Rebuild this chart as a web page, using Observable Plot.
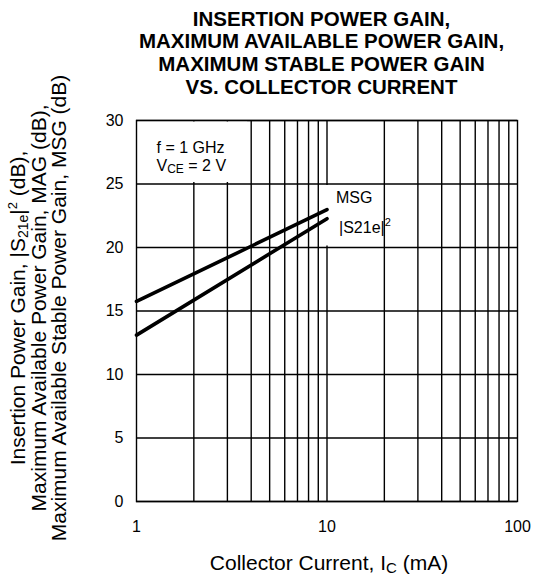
<!DOCTYPE html>
<html>
<head>
<meta charset="utf-8">
<script src="https://cdn.jsdelivr.net/npm/d3@7"></script>
<script src="https://cdn.jsdelivr.net/npm/@observablehq/plot@0.6"></script>
<style>
  html, body { margin: 0; padding: 0; background: #fff; }
  #wrap { position: relative; width: 535px; height: 582px; font-family: "Liberation Sans", Arial, sans-serif; }
  #title { position: absolute; left: 0; top: 0; width: 535px; box-sizing: border-box; padding-left: 108px; padding-top: 7.5px;
           text-align: center; font-weight: bold; font-size: 20.5px; line-height: 22.7px; color: #000; }
  #chart { position: absolute; left: 0; top: 0; }
</style>
</head>
<body>
<div id="wrap">
  <div id="chart"></div>
  <div id="title">INSERTION POWER GAIN,<br>MAXIMUM AVAILABLE POWER GAIN,<br>MAXIMUM STABLE POWER GAIN<br>VS. COLLECTOR CURRENT</div>
</div>
<script>
// ---- data ----
const current = [1, 10];                 // Ic (mA)
const msgGain = [15.75, 22.98];          // MSG (dB)
const s21Gain = [13.1, 22.27];           // |S21e|^2 (dB)
const seriesNames = ["MSG", "|S21e|"];
const xTicks = [1, 10, 100];
const yTicks = [0, 5, 10, 15, 20, 25, 30];
const xGrid = [2, 3, 4, 5, 6, 7, 8, 9, 10, 20, 30, 40, 50, 60, 70, 80, 90];
const conditions = ["f = 1 GHz", "VCE = 2 V"];
// white backgrounds behind the in-plot annotations (data units)
const labelBoxes = [
  {x1: 1, x2: 3.9, y1: 25, y2: 30},
  {x1: 9.5, x2: 15, y1: 20, y2: 25}
];

const rows = [
  ...current.map((c, i) => ({series: seriesNames[0], current: c, gain: msgGain[i]})),
  ...current.map((c, i) => ({series: seriesNames[1], current: c, gain: s21Gain[i]}))
];

const FONT = "'Liberation Sans', Arial, sans-serif";

const plot = Plot.plot({
  width: 535,
  height: 582,
  marginLeft: 136,
  marginRight: 18,
  marginTop: 120,
  marginBottom: 81,
  style: {fontFamily: FONT, fontSize: "16px", color: "#000", background: "#fff", overflow: "visible"},
  x: {type: "log", domain: [1, 100], ticks: xTicks, tickFormat: d => String(d), tickSize: 0, tickPadding: 19, label: null},
  y: {domain: [0, 30], ticks: yTicks, tickSize: 0, tickPadding: 13, label: null},
  marks: [
    Plot.ruleX(xGrid, {stroke: "#000", strokeWidth: 1.4}),
    Plot.ruleY(yTicks, {stroke: "#000", strokeWidth: 1.4}),
    Plot.rect(labelBoxes, {x1: "x1", x2: "x2", y1: "y1", y2: "y2", fill: "#fff", inset: 1.5}),
    Plot.frame({stroke: "#000", strokeWidth: 1.4}),
    Plot.line(rows, {x: "current", y: "gain", z: "series", stroke: "#000", strokeWidth: 3.6}),
    Plot.text(rows.filter(d => d.series === seriesNames[0]), Plot.selectLast({
      x: "current", y: "gain", text: "series", textAnchor: "start", dx: 9, dy: -12, fill: "#000", fontSize: 16
    })),
    Plot.text(rows.filter(d => d.series === seriesNames[1]), Plot.selectLast({
      x: "current", y: "gain", text: "series", textAnchor: "start", dx: 12, dy: 9, fill: "#000", fontSize: 16
    })),
    Plot.text([conditions[0]], {frameAnchor: "top-left", textAnchor: "start", dx: 20, dy: 21, fill: "#000", fontSize: 16}),
    Plot.text([conditions[1]], {frameAnchor: "top-left", textAnchor: "start", dx: 20, dy: 39.5, fill: "#000", fontSize: 16})
  ]
});

document.getElementById("chart").appendChild(plot);
const svg = d3.select(plot);

// rich text helper: segments [text, shift(px, negative = up), fontSize]
function rich(sel, segs, baseSize) {
  let prev = 0;
  segs.forEach(([t, shift = 0, size = baseSize]) => {
    sel.append("tspan").attr("dy", shift - prev).attr("font-size", size).text(t);
    prev = shift;
  });
}

// superscript on the |S21e| label and subscript on VCE
svg.selectAll("text").each(function() {
  const el = d3.select(this);
  if (this.textContent === "|S21e|") {
    el.append("tspan").attr("dy", -7).attr("font-size", 11).text("2");
  } else if (this.textContent === "VCE = 2 V") {
    el.text(null);
    rich(el, [["V"], ["CE", 2, 12], [" = 2 V", 0]], 16);
  }
});

// y-axis title (three rotated lines)
const yTitle = [
  [["Insertion Power Gain, |S"], ["21e", 3, 14], ["|", 0], ["2", -8, 13], [" (dB),", 0]],
  [["Maximum Available Power Gain, MAG (dB),"]],
  [["Maximum Available Stable Power Gain, MSG (dB)"]]
];
const yTitleX = [25, 45.5, 65.5];
yTitle.forEach((segs, i) => {
  const t = svg.append("text")
    .attr("transform", `translate(${yTitleX[i]},308) rotate(-90)`)
    .attr("text-anchor", "middle").attr("font-family", FONT).attr("font-size", 21).attr("fill", "#000");
  rich(t, segs, 21);
});

// x-axis title
const xt = svg.append("text")
  .attr("x", 329).attr("y", 570)
  .attr("text-anchor", "middle").attr("font-family", FONT).attr("font-size", 21).attr("fill", "#000");
rich(xt, [["Collector Current, I"], ["C", 3, 15], [" (mA)", 0]], 21);
</script>
</body>
</html>
